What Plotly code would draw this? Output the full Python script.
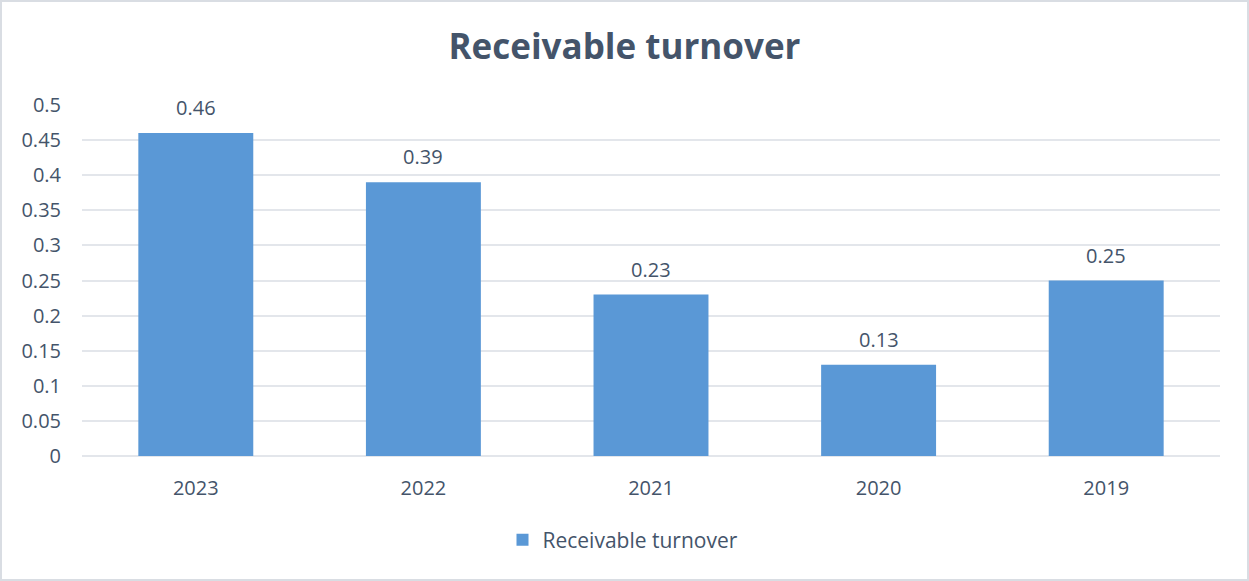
import plotly.graph_objects as go

# Receivable turnover by year
years = ["2023", "2022", "2021", "2020", "2019"]
turnover = [0.46, 0.39, 0.23, 0.13, 0.25]
y_ticks = [0, 0.05, 0.1, 0.15, 0.2, 0.25, 0.3, 0.35, 0.4, 0.45, 0.5]
y_tick_text = ["0", "0.05", "0.1", "0.15", "0.2", "0.25", "0.3", "0.35", "0.4", "0.45", "0.5"]

W, H = 1249, 581
M_L, M_R, M_T, M_B = 82, 29, 105, 125
TEXT = "#44546A"
FONT = "Open Sans"

fig = go.Figure()
fig.add_trace(go.Bar(
    x=years, y=turnover, name="Receivable turnover",
    marker=dict(color="#5A98D6", line=dict(width=0)),
))

# value labels above each bar (category index positions)
for i, v in enumerate(turnover):
    fig.add_annotation(x=i, y=v, text=f"{v:g}", showarrow=False,
                       yanchor="bottom", yshift=10,
                       font=dict(family=FONT, size=20, color=TEXT))

# faint frame around the chart area
pw, ph = W - M_L - M_R, H - M_T - M_B
fig.add_shape(type="rect", xref="paper", yref="paper",
              x0=-(M_L - 1) / pw, x1=1 + (M_R - 1) / pw,
              y0=-(M_B - 1) / ph, y1=1 + (M_T - 1) / ph,
              line=dict(color="#D9DDE3", width=2), layer="below")

fig.update_layout(
    width=W, height=H,
    margin=dict(l=M_L, r=M_R, t=M_T, b=M_B, autoexpand=False),
    paper_bgcolor="white", plot_bgcolor="white",
    title=dict(text="<b>Receivable turnover</b>", x=0.5, xref="container",
               y=1 - 47 / H, yanchor="middle",
               font=dict(family=FONT, size=35, color=TEXT)),
    bargap=0.495,
    showlegend=True,
    legend=dict(orientation="h", x=0.5 - 28 / pw, xanchor="center", xref="paper",
                y=-(540 - (H - M_B)) / ph, yanchor="middle",
                itemwidth=30,
                font=dict(family=FONT, size=21, color=TEXT)),
    xaxis=dict(type="category", range=[-0.5, len(years) - 0.5],
               showgrid=False, showline=False, ticks="",
               ticklabelstandoff=18,
               tickfont=dict(family=FONT, size=20, color=TEXT)),
    yaxis=dict(range=[0, 0.5], tickvals=y_ticks, ticktext=y_tick_text,
               showgrid=True, gridcolor="#E3E6EB", gridwidth=2,
               zeroline=True, zerolinecolor="#E3E6EB", zerolinewidth=2,
               showline=False, ticks="", ticklabelstandoff=20,
               tickfont=dict(family=FONT, size=20, color=TEXT)),
)

fig.write_html("out.html")
